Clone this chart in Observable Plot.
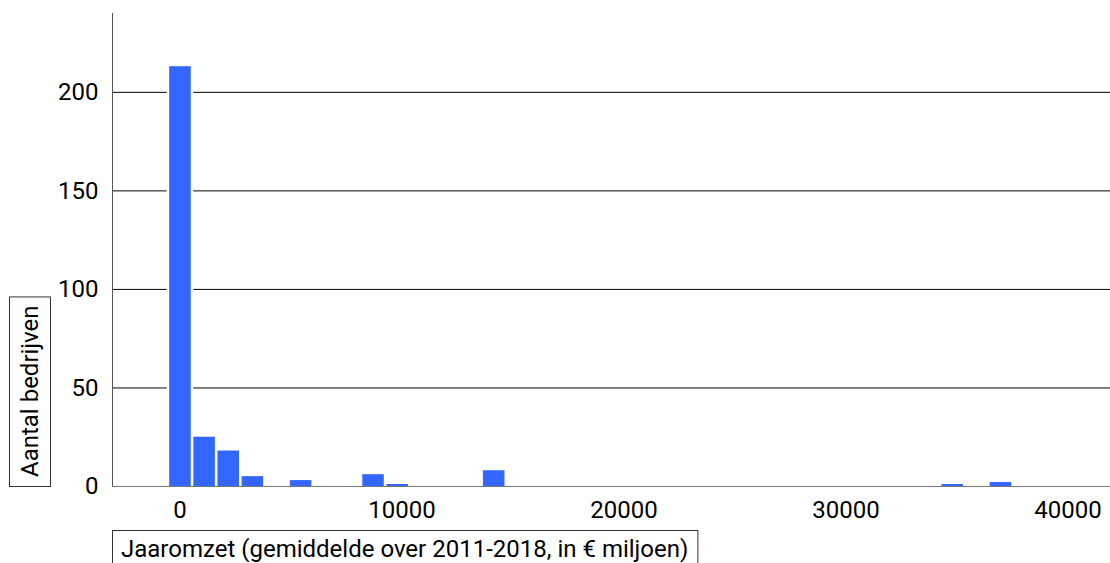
<!DOCTYPE html>
<html><head><meta charset="utf-8">
<script src="https://cdn.jsdelivr.net/npm/d3@7"></script>
<script src="https://cdn.jsdelivr.net/npm/@observablehq/plot@0.6"></script>
<style>html,body{margin:0;padding:0;background:#fff;overflow:hidden}</style>
</head><body><div id="chart"></div>
<script>
// Histogram bins (lower edge, in € miljoen) and company counts
const binLo = [-522, 565, 1652, 2739, 4913, 8174, 9261, 13609, 34262, 36436];
const binWidth = 1087;
const counts = [213, 25, 18, 5, 3, 6, 1, 8, 1, 2];
const xTicks = [0, 10000, 20000, 30000, 40000];
const yTicks = [0, 50, 100, 150, 200];
const gridTicks = [0, 50, 100, 150, 200];
const xLabel = "Jaaromzet (gemiddelde over 2011-2018, in € miljoen)";
const yLabel = "Aantal bedrijven";

const data = binLo.map((x0, i) => ({x0, x1: x0 + binWidth, n: counts[i]}));
const xDomain = [-3040, 41914];

const chart = Plot.plot({
  width: 1110, height: 563,
  marginLeft: 112, marginRight: 0, marginTop: 13, marginBottom: 77,
  style: {fontFamily: "Roboto", fontSize: "24px", color: "#000", background: "#fff"},
  x: {domain: xDomain, label: null},
  y: {domain: [0, 240], label: null},
  marks: [
    Plot.gridY(gridTicks, {stroke: "#000", strokeOpacity: 1, strokeWidth: 1}),
    Plot.rectY(data, {x1: "x0", x2: "x1", y: "n", fill: "#fff", stroke: "#fff", strokeWidth: 2.5}),
    Plot.rectY(data, {x1: "x0", x2: "x1", y: "n", fill: "#3366ff", insetLeft: 1.3, insetRight: 1.3}),
    Plot.ruleY([0], {stroke: "#777"}),
    Plot.ruleX([xDomain[0]], {stroke: "#555"}),
    Plot.axisX(xTicks, {tickSize: 0, tickPadding: 14, tickFormat: d => String(d), fontSize: 24, fill: "#000"}),
    Plot.axisY(yTicks, {tickSize: 0, tickPadding: 14, fontSize: 24, fill: "#000"})
  ]
});
document.getElementById("chart").appendChild(chart);

const svg = d3.select(chart);
const pad = 9;
// x label with box
const gx = svg.append("g");
const xt = gx.append("text").attr("x", 112 + pad).attr("y", 548.5).attr("dy", "0.35em")
  .attr("text-anchor", "start")
  .attr("font-family", "Roboto").attr("font-size", 24).attr("fill", "#000").text(xLabel);
const xw = xt.node().getComputedTextLength();
gx.insert("rect", "text").attr("x", 112.5).attr("y", 530.5).attr("width", xw + 2 * pad).attr("height", 41)
  .attr("fill", "#fff").attr("stroke", "#333").attr("stroke-width", 1);
// y label with box
const gy = svg.append("g");
const yt = gy.append("text").attr("text-anchor", "middle").attr("dy", "0.35em")
  .attr("font-family", "Roboto").attr("font-size", 24).attr("fill", "#000").text(yLabel);
const yw = yt.node().getComputedTextLength();
const boxH = yw + 2 * pad;
const cy = 486 - boxH / 2;
yt.attr("transform", `translate(30,${cy}) rotate(-90)`);
gy.insert("rect", "text").attr("x", 9.5).attr("y", 486 - boxH + 0.5).attr("width", 41).attr("height", boxH)
  .attr("fill", "#fff").attr("stroke", "#333").attr("stroke-width", 1);
</script>
</body></html>
